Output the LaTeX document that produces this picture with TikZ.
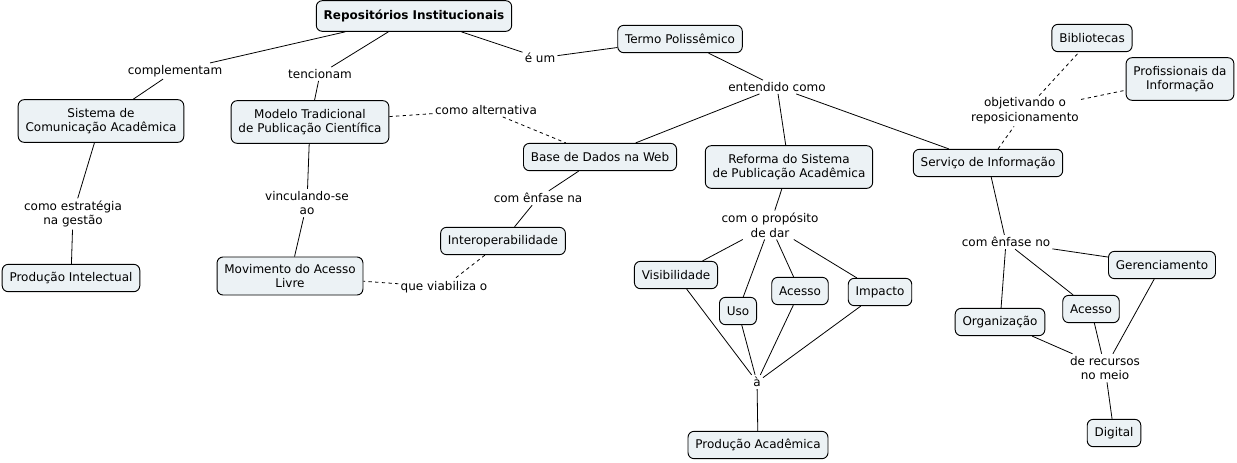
\documentclass[tikz,border=0pt]{standalone}
\usepackage{fontspec}
\setmainfont{DejaVu Sans}
\definecolor{conceito}{RGB}{236,242,245}
\begin{document}
\begin{tikzpicture}[x=0.75pt, y=-0.75pt, font=\fontsize{9}{11}\selectfont,
	conceito/.style={draw, fill=conceito, rounded corners=4.5pt, line width=0.7pt, align=center, inner xsep=5.5pt, inner ysep=4pt, minimum height=20.5pt},
	duplo/.style={conceito, minimum height=32pt},
	frase/.style={fill=white, align=center, inner sep=1.5pt},
	liga/.style={line width=0.6pt},
	tracejado/.style={line width=0.6pt, dash pattern=on 2.5pt off 2.5pt}]
	\useasboundingbox (0,0) rectangle (1237,462);
	
	% conceitos
	\node[conceito, font=\fontsize{9}{11}\selectfont\bfseries, minimum height=23pt] (ri) at (414,16) {Repositórios Institucionais};
	\node[conceito] (termo) at (680,39) {Termo Polissêmico};
	\node[duplo] (sca) at (101,121) {Sistema de\\Comunicação Acadêmica};
	\node[duplo] (mtpc) at (310,122) {Modelo Tradicional\\de Publicação Científica};
	\node[conceito] (bdw) at (600,157) {Base de Dados na Web};
	\node[duplo] (rspa) at (789,167) {Reforma do Sistema\\de Publicação Acadêmica};
	\node[conceito] (si) at (988,163) {Serviço de Informação};
	\node[conceito] (bib) at (1092,38) {Bibliotecas};
	\node[duplo] (prof) at (1180,79) {Profissionais da\\Informação};
	\node[conceito] (pi) at (71,278) {Produção Intelectual};
	\node[duplo, minimum height=28.5pt] (mal) at (290,276) {Movimento do Acesso\\Livre};
	\node[conceito] (inter) at (503,241) {Interoperabilidade};
	\node[conceito] (vis) at (676,275) {Visibilidade};
	\node[conceito] (uso) at (738,311) {Uso};
	\node[conceito] (acesso) at (800,291) {Acesso};
	\node[conceito] (imp) at (880,292) {Impacto};
	\node[conceito] (pa) at (758,445) {Produção Acadêmica};
	\node[conceito] (org) at (1000,322) {Organização};
	\node[conceito] (acesso2) at (1091,309) {Acesso};
	\node[conceito] (ger) at (1162,265) {Gerenciamento};
	\node[conceito] (dig) at (1114,433) {Digital};
	
	% frases de ligação
	\node[frase] (compl) at (175,71) {complementam};
	\node[frase] (tenc) at (320,74) {tencionam};
	\node[frase] (eum) at (540,58) {é um};
	\node[frase] (entend) at (777,87) {entendido como};
	\node[frase] (alt) at (486,110) {como alternativa};
	\node[frase] (obj) at (1025,111) {objetivando o\\reposicionamento};
	\node[frase] (estr) at (73,214) {como estratégia\\na gestão};
	\node[frase] (vinc) at (307,203) {vinculando-se\\ao};
	\node[frase] (enfna) at (538,198) {com ênfase na};
	\node[frase] (viab) at (444,287) {que viabiliza o};
	\node[frase] (prop) at (770,225) {com o propósito\\de dar};
	\node[frase] (a) at (757,382) {à};
	\node[frase] (enfno) at (1006,242) {com ênfase no};
	\node[frase] (rec) at (1105,368) {de recursos\\no meio};
	
	% ligações
	\draw[liga] (ri) -- (compl) -- (sca);
	\draw[liga] (ri) -- (tenc) -- (mtpc);
	\draw[liga] (ri) -- (eum) -- (termo);
	\draw[liga] (termo) -- (entend);
	\foreach \c in {bdw, rspa, si} \draw[liga] (entend) -- (\c);
	\draw[tracejado] (mtpc) -- (alt) -- (bdw);
	\draw[liga] (sca) -- (estr) -- (pi);
	\draw[liga] (mtpc) -- (vinc) -- (mal);
	\draw[liga] (bdw) -- (enfna) -- (inter);
	\draw[tracejado] (inter) -- (viab) -- (mal);
	\draw[liga] (rspa) -- (prop);
	\foreach \c in {vis, uso, acesso, imp} {
		\draw[liga] (prop) -- (\c);
		\draw[liga] (\c) -- (a);
	}
	\draw[liga] (a) -- (pa);
	\draw[tracejado] (si) -- (obj);
	\foreach \c in {bib, prof} \draw[tracejado] (obj) -- (\c);
	\draw[liga] (si) -- (enfno);
	\foreach \c in {org, acesso2, ger} {
		\draw[liga] (enfno) -- (\c);
		\draw[liga] (\c) -- (rec);
	}
	\draw[liga] (rec) -- (dig);
\end{tikzpicture}
\end{document}
